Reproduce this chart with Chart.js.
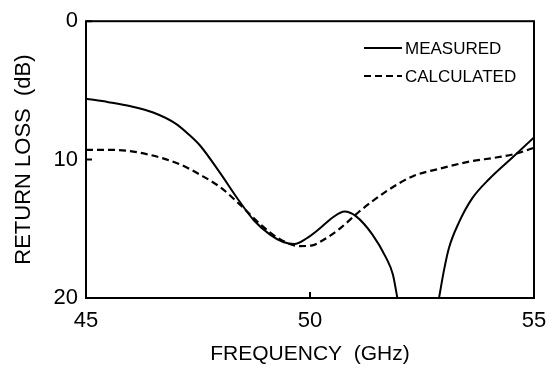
<!DOCTYPE html>
<html>
<head>
<meta charset="utf-8">
<script src="https://cdn.jsdelivr.net/npm/chart.js@4.4.1/dist/chart.umd.min.js"></script>
<style>
  html, body { margin: 0; padding: 0; background: #fff; }
</style>
</head>
<body>
<canvas id="chart" width="558" height="369"></canvas>
<script>
"use strict";

// Values (frequency in GHz, return loss in dB)
const measuredFreq = [45, 45.5, 46, 46.5, 47, 47.3, 47.55, 48, 48.4, 48.75, 49.1, 49.4, 49.65, 49.92, 50.21, 50.5, 50.77, 51.03, 51.39, 51.7, 51.85, 51.95,
                      52.4,
                      52.88, 52.99, 53.1, 53.33, 53.62, 54.0, 54.5, 55];
const measuredLoss = [5.6, 5.85, 6.15, 6.6, 7.4, 8.2, 9.0, 11.0, 12.9, 14.4, 15.4, 15.95, 16.1, 15.7, 15.0, 14.2, 13.75, 14.1, 15.4, 17.1, 18.3, 20,
                      null,
                      20, 18.0, 16.4, 14.5, 12.8, 11.4, 9.9, 8.4];

const calculatedFreq = [45, 45.6, 46.35, 47.1, 47.55, 48, 48.45, 48.9, 49.3, 49.77, 50.05, 50.25, 50.66, 51.1, 51.7, 52.3, 52.9, 53.55, 54.15, 54.56, 55];
const calculatedLoss = [9.3, 9.3, 9.6, 10.35, 11.1, 12.0, 13.3, 14.7, 15.7, 16.25, 16.2, 15.9, 15.0, 13.75, 12.3, 11.2, 10.65, 10.15, 9.85, 9.6, 9.15];

const xTicks = [45, 50, 55];
const yTicks = [0, 10, 20];

const FONT = "'Liberation Sans', Arial, sans-serif";
const toPoints = (xs, ys) => xs.map((x, i) => ({ x: x, y: ys[i] }));

// Plot frame and small inward tick marks
const framePlugin = {
    id: "frame",
    afterDatasetsDraw(chart) {
        const { ctx, chartArea: a, scales } = chart;
        ctx.save();
        ctx.strokeStyle = "#000";
        ctx.lineWidth = 2;
        ctx.strokeRect(a.left, a.top, a.right - a.left, a.bottom - a.top);
        ctx.beginPath();
        xTicks.forEach(v => {
            const px = scales.x.getPixelForValue(v);
            ctx.moveTo(px, a.bottom);
            ctx.lineTo(px, a.bottom - 6);
        });
        yTicks.forEach(v => {
            const py = scales.y.getPixelForValue(v);
            ctx.moveTo(a.left, py);
            ctx.lineTo(a.left + 6, py);
        });
        ctx.stroke();
        ctx.restore();
    }
};

// Legend drawn inside the plot, top right
const legendPlugin = {
    id: "innerLegend",
    afterDraw(chart) {
        const { ctx } = chart;
        const rows = [{ y: 48, ds: chart.data.datasets[0] }, { y: 76, ds: chart.data.datasets[1] }];
        ctx.save();
        ctx.font = "17px " + FONT;
        ctx.fillStyle = "#000";
        ctx.textBaseline = "middle";
        rows.forEach(r => {
            ctx.strokeStyle = "#000";
            ctx.lineWidth = r.ds.borderWidth;
            ctx.setLineDash(r.ds.borderDash || []);
            ctx.beginPath();
            ctx.moveTo(364, r.y);
            ctx.lineTo(402, r.y);
            ctx.stroke();
            ctx.setLineDash([]);
            ctx.fillText(r.ds.label, 405, r.y + 1);
        });
        ctx.restore();
    }
};

new Chart(document.getElementById("chart"), {
    type: "line",
    data: {
        datasets: [
            {
                label: "MEASURED",
                data: toPoints(measuredFreq, measuredLoss),
                borderColor: "#000",
                borderWidth: 2,
                pointRadius: 0,
                fill: false,
                spanGaps: false,
                cubicInterpolationMode: "monotone"
            },
            {
                label: "CALCULATED",
                data: toPoints(calculatedFreq, calculatedLoss),
                borderColor: "#000",
                borderWidth: 2.2,
                borderDash: [7, 4],
                pointRadius: 0,
                fill: false,
                cubicInterpolationMode: "monotone"
            }
        ]
    },
    options: {
        responsive: false,
        animation: false,
        devicePixelRatio: 1,
        layout: { padding: { left: 11, top: 16, right: 24, bottom: 2 } },
        plugins: { legend: { display: false }, tooltip: { enabled: false } },
        scales: {
            x: {
                type: "linear",
                min: 45,
                max: 55,
                afterBuildTicks: s => { s.ticks = xTicks.map(v => ({ value: v })); },
                afterFit: s => { s.height = 69; },
                grid: { display: false, drawTicks: false },
                border: { display: false },
                ticks: { color: "#000", padding: 10, maxRotation: 0, font: { family: FONT, size: 22 } },
                title: { display: true, text: "FREQUENCY  (GHz)", color: "#000", padding: 0, font: { family: FONT, size: 21 } }
            },
            y: {
                type: "linear",
                min: 0,
                max: 20,
                reverse: true,
                afterBuildTicks: s => { s.ticks = yTicks.map(v => ({ value: v })); },
                afterFit: s => { s.width = 75; },
                grid: { display: false, drawTicks: false },
                border: { display: false },
                ticks: { color: "#000", padding: 8, font: { family: FONT, size: 22 } },
                title: { display: true, text: "RETURN LOSS  (dB)", color: "#000", padding: 0, font: { family: FONT, size: 22 } }
            }
        }
    },
    plugins: [framePlugin, legendPlugin]
});
</script>
</body>
</html>
